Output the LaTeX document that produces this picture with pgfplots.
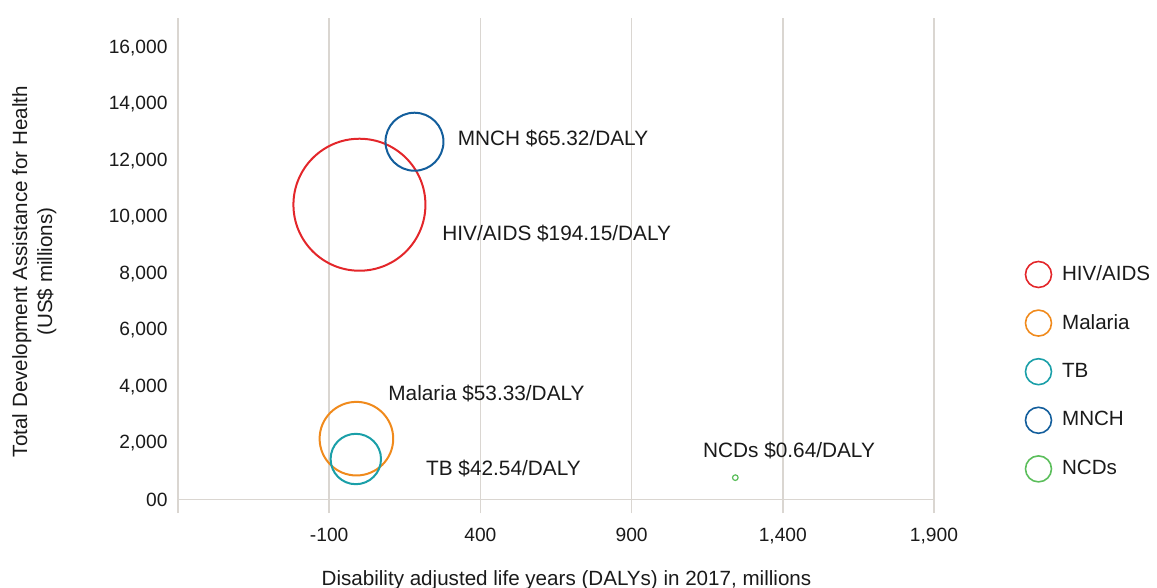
\documentclass[border=0pt]{standalone}
\usepackage{pgfplots}
\pgfplotsset{compat=1.18}
\usepackage{fontspec}
\setmainfont{Liberation Sans}
\definecolor{gridc}{HTML}{DAD6D1}
\definecolor{hivc}{HTML}{E3262A}
\definecolor{malc}{HTML}{F08A1C}
\definecolor{tbc}{HTML}{1A9FA8}
\definecolor{mnchc}{HTML}{135E9C}
\definecolor{ncdc}{HTML}{5BBE5B}
\definecolor{txt}{HTML}{1A1A1A}
\begin{document}
\begin{tikzpicture}
\path[use as bounding box] (-89pt,-44.15pt) rectangle (489.5pt,249.85pt);
\begin{axis}[
  at={(0,0)}, anchor=south west,
  scale only axis, width=378pt, height=241pt,
  xmin=-600, xmax=1900, ymin=0, ymax=17060,
  axis x line*=bottom, axis y line*=left,
  axis line style={draw=gridc, line width=0.75pt},
  scaled x ticks=false, scaled y ticks=false,
  xtick={-600,-100,400,900,1400,1900},
  xticklabels={,-100,400,900,{1,400},{1,900}},
  ytick={0,2000,4000,6000,8000,10000,12000,14000,16000},
  yticklabels={00,{2,000},{4,000},{6,000},{8,000},{10,000},{12,000},{14,000},{16,000}},
  xmajorgrids, grid style={draw=gridc, line width=0.75pt},
  tick align=outside,
  xtick style={draw=gridc, line width=0.75pt},
  major tick length=6.75pt,
  ytick style={draw=none},
  tick label style={font=\fontsize{9.6}{11}\selectfont, text=txt},
  xticklabel style={inner sep=0pt, anchor=north, yshift=-7pt},
  yticklabel style={inner sep=0pt, anchor=east, xshift=1.7pt},
  xlabel={Disability adjusted life years (DALYs) in 2017, millions},
  xlabel style={at={(axis description cs:0.5139,-0.177)}, anchor=base, font=\fontsize{10.3}{12}\selectfont, text=txt, inner sep=0pt},
  ylabel={Total Development Assistance for Health\\(US\$ millions)},
  ylabel style={at={(axis description cs:-0.1902,0.4734)}, anchor=center, rotate=0, align=center, font=\fontsize{10.3}{12.5}\selectfont, text=txt, inner sep=0pt},
  legend style={at={(axis description cs:1.1115,0.505)}, anchor=north west, draw=none, fill=none,
    font=\fontsize{10.3}{12}\selectfont, text=txt, row sep=10.5pt},
  legend cell align=left,
  clip=false,
]
\addplot[only marks, mark=o, mark size=33pt, color=hivc, line width=1pt, forget plot] coordinates {(0,10440)};
\addplot[only marks, mark=o, mark size=14.5pt, color=mnchc, line width=1pt, forget plot] coordinates {(182,12670)};
\addplot[only marks, mark=o, mark size=18.4pt, color=malc, line width=1pt, forget plot] coordinates {(-10,2160)};
\addplot[only marks, mark=o, mark size=12.6pt, color=tbc, line width=1pt, forget plot] coordinates {(-12,1440)};
\addplot[only marks, mark=o, mark size=1.4pt, color=ncdc, line width=0.6pt, forget plot] coordinates {(1243,780)};

\addlegendimage{legend image code/.code={\draw[hivc, line width=0.8pt] (6.5pt,0pt) circle (6.5pt); \path (16.1pt,0pt);}}
\addlegendentry{HIV/AIDS}
\addlegendimage{legend image code/.code={\draw[malc, line width=0.8pt] (6.5pt,0pt) circle (6.5pt); \path (16.1pt,0pt);}}
\addlegendentry{Malaria}
\addlegendimage{legend image code/.code={\draw[tbc, line width=0.8pt] (6.5pt,0pt) circle (6.5pt); \path (16.1pt,0pt);}}
\addlegendentry{TB}
\addlegendimage{legend image code/.code={\draw[mnchc, line width=0.8pt] (6.5pt,0pt) circle (6.5pt); \path (16.1pt,0pt);}}
\addlegendentry{MNCH}
\addlegendimage{legend image code/.code={\draw[ncdc, line width=0.8pt] (6.5pt,0pt) circle (6.5pt); \path (16.1pt,0pt);}}
\addlegendentry{NCDs}

\begin{scope}[every node/.style={anchor=base west, inner sep=0pt, text=txt, font=\fontsize{10.4}{12}\selectfont}]
\node at (axis cs:324,12552) {MNCH \$65.32/DALY};
\node at (axis cs:273,9189) {HIV/AIDS \$194.15/DALY};
\node at (axis cs:94.5,3504) {Malaria \$53.33/DALY};
\node at (axis cs:219.3,871) {TB \$42.54/DALY};
\node at (axis cs:1135,1497) {NCDs \$0.64/DALY};
\end{scope}
\end{axis}
\end{tikzpicture}
\end{document}
